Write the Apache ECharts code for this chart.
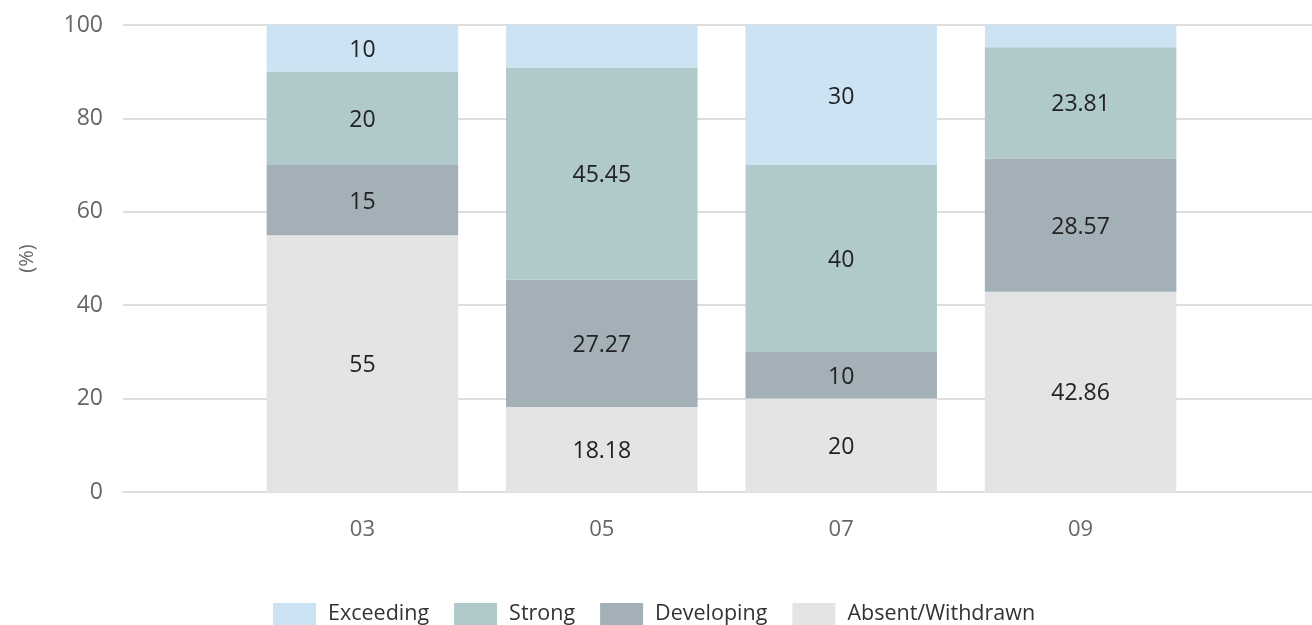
<!DOCTYPE html>
<html>
<head>
<meta charset="utf-8">
<script src="https://cdn.jsdelivr.net/npm/echarts@6/dist/echarts.min.js"></script>
<style>
  html, body { margin: 0; padding: 0; background: #fff; overflow: hidden; }
  #chart { width: 1323px; height: 640px; }
</style>
</head>
<body>
<div id="chart"></div>
<script>
// categories (blank slots at both ends of the axis)
const categories = ['', '03', '05', '07', '09', ''];
const seriesNames = ['Exceeding', 'Strong', 'Developing', 'Absent/Withdrawn'];

// values per category, bottom of stack first
const absent = ['-', 55, 18.18, 20, 42.86, '-'];
const developing = ['-', 15, 27.27, 10, 28.57, '-'];
const strong = ['-', 20, 45.45, 40, 23.81, '-'];
const exceeding = ['-', 10, 9.09, 30, 4.76, '-'];

const yTicks = [0, 20, 40, 60, 80, 100];

const colors = {
  'Exceeding': '#cce3f3',
  'Strong': '#b0c9ca',
  'Developing': '#a4b0b8',
  'Absent/Withdrawn': '#e4e4e4'
};

const font = 'Segoe UI, "Open Sans", "Noto Sans", sans-serif';

function makeSeries(name, data) {
  return {
    name: name,
    type: 'bar',
    stack: 'total',
    barCategoryGap: '20%',
    data: data,
    itemStyle: { color: colors[name] },
    label: {
      show: true,
      position: 'inside',
      offset: [0, 2],
      color: '#222',
      fontFamily: font,
      fontSize: 23,
      formatter: (p) => (p.value < 9.5 ? '' : String(p.value))
    },
    emphasis: { disabled: true }
  };
}

const chart = echarts.init(document.getElementById('chart'));
chart.setOption({
  animation: false,
  grid: { left: 123, right: 0, top: 25, bottom: 148 },
  legend: {
    data: seriesNames,
    left: 268,
    top: 598,
    icon: 'rect',
    itemWidth: 43,
    itemHeight: 22,
    itemGap: 25,
    textStyle: { fontFamily: font, fontSize: 21.5, color: '#333', padding: [0, 0, 0, 7] }
  },
  xAxis: {
    type: 'category',
    data: categories,
    boundaryGap: false,
    axisLine: { lineStyle: { color: '#dedede', width: 2 } },
    axisTick: { show: false },
    axisLabel: { color: '#666', fontFamily: font, fontSize: 22, margin: 27, interval: 0 },
    splitLine: { show: false }
  },
  yAxis: {
    type: 'value',
    min: yTicks[0],
    max: yTicks[yTicks.length - 1],
    interval: yTicks[1] - yTicks[0],
    name: '(%)',
    nameLocation: 'middle',
    nameRotate: 90,
    nameGap: 86,
    nameTextStyle: { color: '#666', fontFamily: font, fontSize: 20 },
    axisLine: { show: false },
    axisTick: { show: false },
    axisLabel: { color: '#666', fontFamily: font, fontSize: 23, margin: 20 },
    splitLine: { lineStyle: { color: '#dedede', width: 2 } }
  },
  series: [
    makeSeries('Absent/Withdrawn', absent),
    makeSeries('Developing', developing),
    makeSeries('Strong', strong),
    makeSeries('Exceeding', exceeding)
  ]
});
</script>
</body>
</html>
